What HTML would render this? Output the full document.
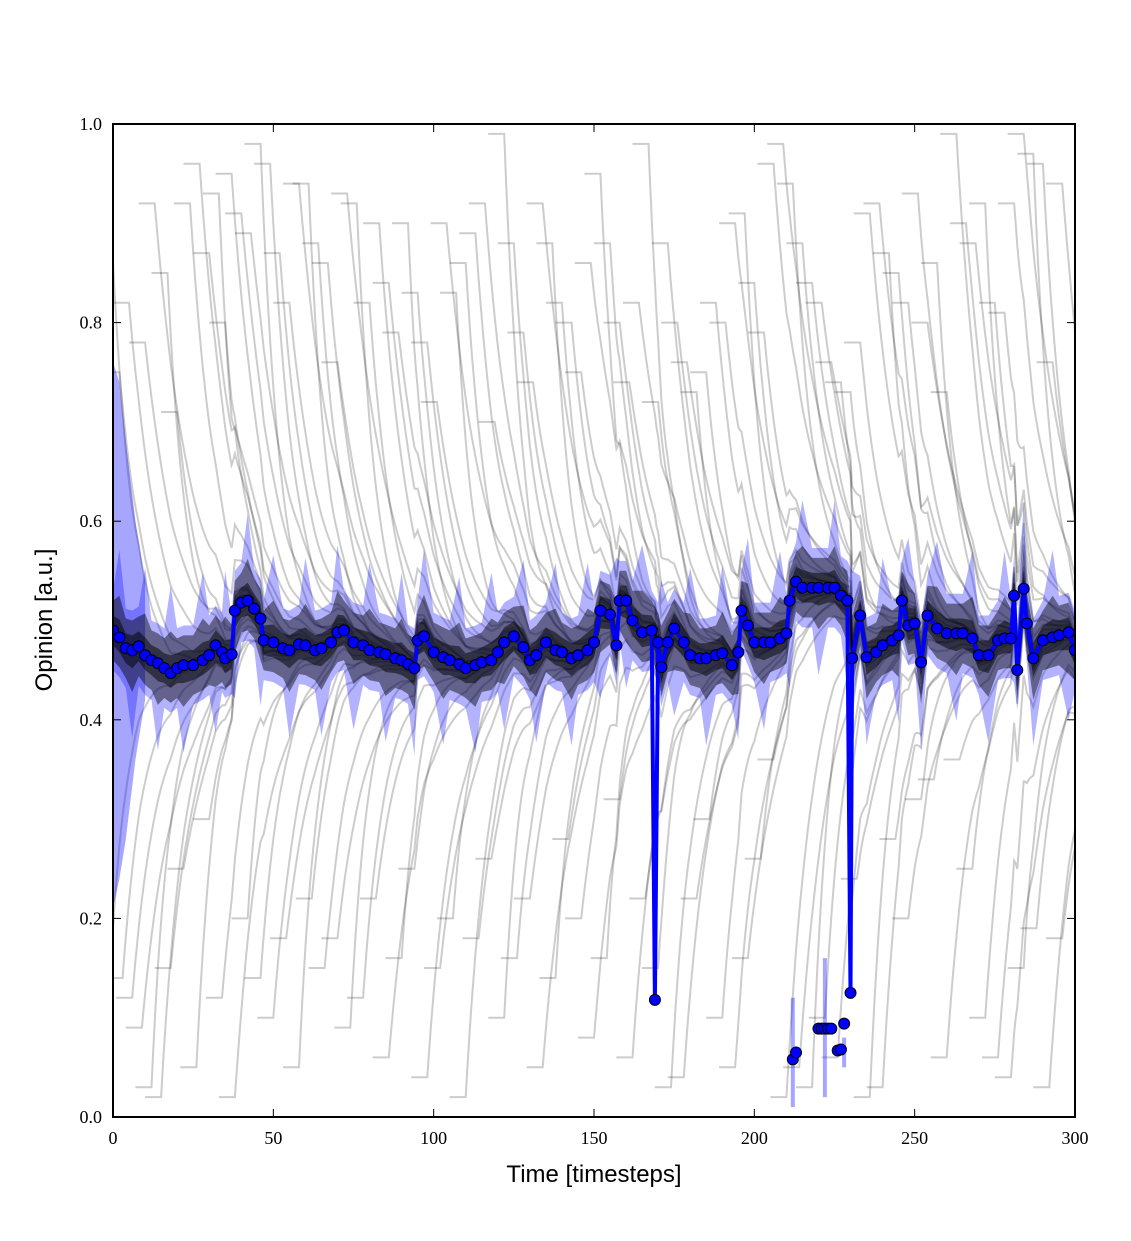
<!DOCTYPE html>
<html><head><meta charset="utf-8"><style>
html,body{margin:0;padding:0;background:#fff;}
svg{display:block;}
</style></head><body>
<svg id="chart" width="1131" height="1241" xmlns="http://www.w3.org/2000/svg">
<rect width="1131" height="1241" fill="#fff"/>
<defs><clipPath id="pc"><rect x="113" y="124" width="962" height="993"/></clipPath></defs>
<g id="plot" clip-path="url(#pc)"></g>
<g id="axes"></g>
</svg>
<script>
// ---- data ----
const meanTimes = [0,2,4,6,8,10,12,14,16,18,20,22,25,28,30,32,34,35,37,38,40,42,44,46,47,50,53,55,58,60,63,65,68,70,72,75,78,80,83,85,88,90,92,94,95,97,100,103,105,108,110,113,115,118,120,122,125,128,130,132,135,138,140,143,145,148,150,152,155,157,158,160,162,165,168,169,170,171,173,175,178,180,183,185,188,190,193,195,196,198,200,203,205,208,210,211,213,215,218,220,223,225,227,229,230,230.5,233,235,238,240,243,245,246,248,250,252,254,257,260,263,265,268,270,273,276,278,280,281,282,284,285,287,290,293,295,298,300];
const meanValues = [0.490,0.483,0.472,0.470,0.474,0.465,0.460,0.457,0.452,0.447,0.452,0.455,0.455,0.460,0.465,0.475,0.468,0.462,0.466,0.510,0.518,0.520,0.512,0.502,0.480,0.478,0.472,0.470,0.476,0.475,0.470,0.472,0.478,0.488,0.490,0.478,0.475,0.470,0.468,0.466,0.462,0.460,0.456,0.452,0.480,0.484,0.468,0.463,0.460,0.456,0.452,0.455,0.458,0.460,0.468,0.478,0.484,0.473,0.460,0.465,0.478,0.470,0.468,0.462,0.465,0.470,0.478,0.510,0.506,0.475,0.520,0.520,0.500,0.488,0.490,0.118,0.478,0.453,0.478,0.492,0.478,0.465,0.462,0.462,0.465,0.467,0.455,0.468,0.510,0.495,0.478,0.478,0.478,0.482,0.487,0.520,0.539,0.533,0.533,0.533,0.533,0.533,0.525,0.520,0.125,0.462,0.505,0.463,0.468,0.475,0.480,0.485,0.520,0.495,0.497,0.458,0.505,0.492,0.487,0.487,0.487,0.482,0.465,0.465,0.480,0.482,0.482,0.525,0.450,0.532,0.497,0.462,0.480,0.483,0.485,0.488,0.470];
const lowTimes = [212,213,220,221,222,223,224,226,227,228];
const lowValues = [0.058,0.065,0.089,0.089,0.089,0.089,0.089,0.067,0.068,0.094];
const topT = [0,2,5,10,13,17,20,24,27,30,33,35,37,40,43,46,49,52,55,58,61,64,67,70,73,76,80,83,86,89,92,95,98,101,104,107,110,113,116,119,122,125,128,131,134,137,140,143,146,149,152,155,158,161,164,167,170,173,176,179,182,185,188,191,194,197,200,203,206,209,212,215,218,221,224,227,230,233,236,239,242,245,248,251,254,257,260,263,266,269,272,275,278,281,284,287,290,293,296];
const topV = [0.86,0.75,0.82,0.78,0.92,0.85,0.71,0.92,0.96,0.87,0.93,0.80,0.95,0.91,0.89,0.98,0.96,0.87,0.82,0.94,0.94,0.88,0.86,0.76,0.93,0.92,0.82,0.90,0.84,0.79,0.90,0.83,0.78,0.72,0.90,0.83,0.86,0.89,0.92,0.70,0.99,0.88,0.79,0.74,0.92,0.88,0.82,0.80,0.75,0.86,0.95,0.88,0.80,0.74,0.82,0.98,0.72,0.88,0.80,0.76,0.73,0.75,0.82,0.80,0.90,0.91,0.84,0.79,0.96,0.98,0.94,0.88,0.84,0.82,0.76,0.74,0.73,0.78,0.91,0.92,0.87,0.85,0.82,0.93,0.80,0.86,0.73,0.99,0.90,0.88,0.92,0.82,0.81,0.92,0.99,0.97,0.96,0.76,0.94];
const botT = [0,3,6,9,12,15,18,22,26,30,34,38,42,46,50,54,58,62,66,70,74,78,82,86,90,94,98,102,106,110,114,118,122,126,130,134,138,142,146,150,154,158,162,166,170,174,178,182,186,190,194,198,202,206,210,214,218,222,226,232,236,240,244,248,252,256,260,264,268,272,276,280,284,288,292,296];
const botV = [0.19,0.14,0.12,0.09,0.03,0.02,0.15,0.25,0.05,0.30,0.12,0.02,0.20,0.14,0.10,0.18,0.05,0.22,0.15,0.18,0.09,0.12,0.22,0.06,0.16,0.25,0.04,0.15,0.20,0.02,0.18,0.26,0.10,0.16,0.22,0.05,0.14,0.28,0.20,0.08,0.16,0.32,0.06,0.22,0.15,0.03,0.04,0.22,0.30,0.10,0.05,0.16,0.26,0.36,0.02,0.05,0.03,0.10,0.06,0.24,0.02,0.03,0.28,0.20,0.32,0.34,0.06,0.36,0.25,0.10,0.06,0.04,0.15,0.19,0.03,0.18];
const xTicks = [0,50,100,150,200,250,300];
const yTicks = [0.0,0.2,0.4,0.6,0.8,1.0];
const yTickLabels = ["0.0","0.2","0.4","0.6","0.8","1.0"];

// ---- axes ----
const X0=113,X1=1075,Y0=1117,Y1=124;
const xs = t => X0 + (t/300)*(X1-X0);
const ys = v => Y0 - v*(Y0-Y1);
const NS='http://www.w3.org/2000/svg';
const plot=document.getElementById('plot'), axes=document.getElementById('axes');
function mk(tag,attrs,parent){const e=document.createElementNS(NS,tag);for(const k in attrs)e.setAttribute(k,attrs[k]);parent.appendChild(e);return e;}
function meanAt(t){
  if(t<=meanTimes[0])return meanValues[0];
  for(let i=1;i<meanTimes.length;i++){if(t<=meanTimes[i]){let a=meanValues[i-1],b=meanValues[i];if(a<0.3||b<0.3)return b<0.3?a:b;const f=(t-meanTimes[i-1])/(meanTimes[i]-meanTimes[i-1]);return a+(b-a)*f;}}
  return meanValues[meanValues.length-1];
}
function agentPath(t0,v0,tau){
  let d='M'+xs(Math.max(0,t0-5)).toFixed(1)+','+ys(v0).toFixed(1);
  for(let t=t0;t<=Math.min(300,t0+45);t+=0.5){
    const m=meanAt(t);
    const nv=m+(v0-m)*Math.exp(-(t-t0)/tau);
    d+=' L'+xs(t).toFixed(1)+','+ys(nv).toFixed(1);
  }
  return d;
}
topT.forEach((t,i)=>{
  const p=mk('path',{d:agentPath(t,topV[i],6+(i%5)*1.5),fill:'none',stroke:'#000','stroke-opacity':0.2,'stroke-width':2},plot);
  
  
});
botT.forEach((t,i)=>{
  const p=mk('path',{d:agentPath(t,botV[i],6+(i%4)*1.5),fill:'none',stroke:'#000','stroke-opacity':0.2,'stroke-width':2},plot);
  
  
});
function band(w,fill,op,name,vary){
  const good=meanTimes.map((t,i)=>i).filter(i=>meanValues[i]>0.3);
  let up=good.map(i=>xs(meanTimes[i]).toFixed(1)+','+ys(meanValues[i]+w*(1+(i%4===1?vary:0))).toFixed(1));
  let dn=good.slice().reverse().map(i=>xs(meanTimes[i]).toFixed(1)+','+ys(meanValues[i]-w*(1+(i%4===3?vary:0))).toFixed(1));
  const p=mk('polygon',{points:up.concat(dn).join(' '),fill:fill,'fill-opacity':op},plot);
  
  
}
band(0.04,'#0000ff',0.3,'spread-band-blue',1.2);
const early=mk('polygon',{points:[[0,0.76],[2,0.74],[4,0.68],[7,0.60],[10,0.54],[10,0.42],[7,0.36],[4,0.28],[2,0.24],[0,0.21]].map(p=>xs(p[0])+','+ys(p[1])).join(' '),fill:'#0000ff','fill-opacity':0.35},plot);


band(0.03,'#000',0.45,'core-band-dark',0.4);
band(0.015,'#000',0.5,'core-band-darker',0.2);
const md=meanTimes.map((t,i)=>(i?'L':'M')+xs(t).toFixed(1)+','+ys(meanValues[i]).toFixed(1)).join(' ');
const ml=mk('path',{d:md,fill:'none',stroke:'#0000ff','stroke-width':4,'stroke-linejoin':'round'},plot);


[[212,0.01,0.12],[222,0.02,0.16],[228,0.05,0.08]].forEach(b=>{
  const r=mk('rect',{x:xs(b[0])-2,y:ys(b[2]),width:4,height:ys(b[1])-ys(b[2]),fill:'#0000ff','fill-opacity':0.35},plot);
  
  
});
meanTimes.forEach((t,i)=>{
  const c=mk('circle',{cx:xs(t),cy:ys(meanValues[i]),r:5.5,fill:'#0000ff',stroke:'#000','stroke-width':1},plot);
  
  
});
lowTimes.forEach((t,i)=>{
  const c=mk('circle',{cx:xs(t),cy:ys(lowValues[i]),r:5.5,fill:'#0000ff',stroke:'#000','stroke-width':1},plot);
  
  
});
const fr=mk('rect',{x:X0,y:Y1,width:X1-X0,height:Y0-Y1,fill:'none',stroke:'#000','stroke-width':2},axes);


xTicks.forEach(t=>{
  const x=xs(t);
  mk('line',{x1:x,y1:Y0,x2:x,y2:Y0-8,stroke:'#000','stroke-width':1},axes);
  mk('line',{x1:x,y1:Y1,x2:x,y2:Y1+8,stroke:'#000','stroke-width':1},axes);
  const tx=mk('text',{x:x,y:Y0+27,'text-anchor':'middle','font-family':'Liberation Serif, serif','font-size':18},axes);
  tx.textContent=t;
  
  
});
yTicks.forEach((v,i)=>{
  const y=ys(v);
  mk('line',{x1:X0,y1:y,x2:X0+8,y2:y,stroke:'#000','stroke-width':1},axes);
  mk('line',{x1:X1,y1:y,x2:X1-8,y2:y,stroke:'#000','stroke-width':1},axes);
  const tx=mk('text',{x:X0-11,y:y+6,'text-anchor':'end','font-family':'Liberation Serif, serif','font-size':18},axes);
  tx.textContent=yTickLabels[i];
  
  
});
const xl=mk('text',{x:594,y:1182,'text-anchor':'middle','font-family':'Liberation Sans, sans-serif','font-size':24},axes);
xl.textContent='Time [timesteps]';


const yl=mk('text',{x:52,y:620,'text-anchor':'middle','font-family':'Liberation Sans, sans-serif','font-size':24,transform:'rotate(-90 52 620)'},axes);
yl.textContent='Opinion [a.u.]';


</script>
</body></html>
